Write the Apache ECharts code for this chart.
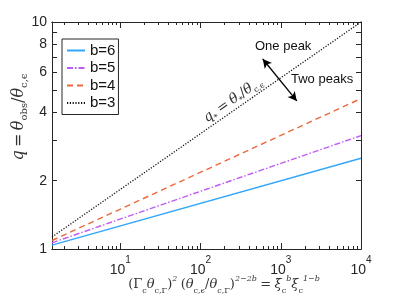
<!DOCTYPE html>
<html><head><meta charset="utf-8">
<script src="https://cdn.jsdelivr.net/npm/echarts@6/dist/echarts.min.js"></script>
<style>html,body{margin:0;padding:0;background:#fff}#c{width:399px;height:299px}</style>
</head><body><div id="c"></div>
<script>
// ---- data ----
const seriesNames = ['b=6', 'b=5', 'b=4', 'b=3'];
const xEnds = [1.41, 10000];
const q_b6 = [1.04, 2.51];
const q_b5 = [1.065, 3.16];
const q_b4 = [1.09, 4.6];
const q_b3 = [1.13, 10];
const yTickValues = [1, 2, 3, 4, 5, 6, 7, 8, 9, 10];
const yTickLabels = [1, 2, 4, 6, 8, 10];
const xMajorTicks = [10, 100, 1000, 10000];
const xMinorTicks = [2,3,4,5,6,7,8,9,20,30,40,50,60,70,80,90,200,300,400,500,600,700,800,900,2000,3000,4000,5000,6000,7000,8000,9000];
const xExponents = {10: '1', 100: '2', 1000: '3', 10000: '4'};
const arrowFrom = [596, 6.87];
const arrowTo = [1585, 4.49];

const colors = ['#33a6fa', '#bd5cf5', '#ea6a3c', '#111111'];
const lineTypes = ['solid', [6, 2, 1.5, 2], [6, 4], [1.2, 1.6]];
const allQ = [q_b6, q_b5, q_b4, q_b3];

const axisColor = '#262626';
const sansFont = '"Liberation Sans", Arial, sans-serif';
const serif = '"DejaVu Serif", "Liberation Serif", serif';

function xAx(pos, ticks, len, labels) {
  return {
    type: 'log', position: pos, min: xEnds[0], max: xEnds[1],
    axisLine: { show: true, lineStyle: { color: axisColor, width: 1 } },
    axisTick: { show: true, inside: true, length: len, customValues: ticks, lineStyle: { color: axisColor } },
    axisLabel: labels ? {
      show: true, customValues: xMajorTicks, margin: 6,
      formatter: v => '{b|10}{s|' + xExponents[Math.round(v)] + '}',
      rich: {
        b: { fontSize: 14, fontFamily: sansFont, color: axisColor, lineHeight: 22, verticalAlign: 'bottom' },
        s: { fontSize: 10, fontFamily: sansFont, color: axisColor, lineHeight: 22, verticalAlign: 'top' }
      }
    } : { show: false },
    splitLine: { show: false }, minorTick: { show: false }, minorSplitLine: { show: false }
  };
}
function yAx(pos, labels) {
  return {
    type: 'log', position: pos, min: 1, max: 10,
    axisLine: { show: true, lineStyle: { color: axisColor, width: 1 } },
    axisTick: { show: true, inside: true, length: 5, customValues: yTickValues, lineStyle: { color: axisColor } },
    axisLabel: labels ? { show: true, customValues: yTickLabels, margin: 5, fontSize: 14, fontFamily: sansFont, color: axisColor } : { show: false },
    splitLine: { show: false }, minorTick: { show: false }
  };
}

const series = seriesNames.map((n, i) => ({
  name: n, type: 'line', xAxisIndex: 0, yAxisIndex: 0,
  data: xEnds.map((x, j) => [x, allQ[i][j]]),
  symbol: 'none', silent: true,
  lineStyle: { color: colors[i], width: i === 3 ? 1.3 : 1.4, type: lineTypes[i] },
  itemStyle: { color: colors[i] }
}));
series[3].markLine = {
  silent: true, symbol: ['arrow', 'arrow'], symbolSize: [7, 9],
  lineStyle: { color: '#000', width: 1.3, type: 'solid' }, label: { show: false },
  data: [[{ coord: arrowFrom }, { coord: arrowTo }]]
};

const chart = echarts.init(document.getElementById('c'), null, { renderer: 'canvas' });
chart.setOption({
  animation: false,
  backgroundColor: '#fff',
  grid: { left: 52, right: 38, top: 22, bottom: 50, containLabel: false },
  xAxis: [xAx('bottom', xMinorTicks, 3, false), xAx('bottom', xMajorTicks, 6, true), xAx('top', xMinorTicks, 3, false), xAx('top', xMajorTicks, 6, false)],
  yAxis: [yAx('left', true), yAx('right', false)],
  legend: {
    left: 62, top: 39, orient: 'vertical', data: seriesNames,
    itemWidth: 18, itemHeight: 14, itemGap: 2.5, padding: [4, 3, 4, 4],
    borderColor: axisColor, borderWidth: 1, backgroundColor: '#fff',
    itemStyle: { opacity: 0 },
    textStyle: { fontSize: 15, fontFamily: sansFont, color: '#111' }
  },
  series: series,
  graphic: [
    { type: 'text', left: 255, top: 40, style: { text: 'One peak', fontSize: 13, fontFamily: sansFont, fill: '#111' } },
    { type: 'text', left: 291, top: 73, style: { text: 'Two peaks', fontSize: 13, fontFamily: sansFont, fill: '#111' } },
    { type: 'text', x: 233, y: 100, rotation: 35 * Math.PI / 180,
      style: {
        text: '{i|q}{sb|*} {r|=} {g|θ}{sb|*}{r|/}{g|θ}{sb|c,ϵ}', align: 'center', verticalAlign: 'middle',
        rich: {
          i: { fontSize: 14, fontStyle: 'italic', fontFamily: serif, fill: '#333', lineHeight: 18, verticalAlign: 'middle' },
          g: { fontSize: 14, fontStyle: 'italic', fontFamily: serif, fill: '#333', lineHeight: 18, verticalAlign: 'middle' },
          r: { fontSize: 14, fontFamily: serif, fill: '#333', lineHeight: 18, verticalAlign: 'middle' },
          sb: { fontSize: 8, fontFamily: serif, fill: '#333', lineHeight: 18, verticalAlign: 'bottom' }
        }
      } },
    { type: 'text', x: 19, y: 117, rotation: Math.PI / 2,
      style: {
        text: '{i|q} {r|=} {g|θ}{sb|obs}{r|/}{g|θ}{sb|c,ϵ}', align: 'center', verticalAlign: 'middle',
        rich: {
          i: { fontSize: 16, fontStyle: 'italic', fontFamily: serif, fill: '#333', lineHeight: 21, verticalAlign: 'middle' },
          g: { fontSize: 16, fontStyle: 'italic', fontFamily: serif, fill: '#333', lineHeight: 21, verticalAlign: 'middle' },
          r: { fontSize: 16, fontFamily: serif, fill: '#333', lineHeight: 21, verticalAlign: 'middle' },
          sb: { fontSize: 10, fontFamily: serif, fill: '#333', lineHeight: 21, verticalAlign: 'bottom' }
        }
      } },
    { type: 'text', x: 224, y: 285,
      style: {
        text: '{r|(Γ}{sb|c}{g|θ}{sb|c,Γ}{r|)}{sp|2} {r|(}{g|θ}{sb|c,ϵ}{r|/}{g|θ}{sb|c,Γ}{r|)}{sp|2−2b} {r|=} {g|ξ̄}{sb|c}{sp|b}{g|ξ}{sb|c}{sp|1−b}',
        align: 'center', verticalAlign: 'middle',
        rich: {
          g: { fontSize: 13, fontStyle: 'italic', fontFamily: serif, fill: '#333', lineHeight: 20, verticalAlign: 'middle' },
          r: { fontSize: 13, fontFamily: serif, fill: '#333', lineHeight: 20, verticalAlign: 'middle' },
          sb: { fontSize: 8, fontFamily: serif, fill: '#333', lineHeight: 20, verticalAlign: 'bottom' },
          sp: { fontSize: 8, fontFamily: serif, fontStyle: 'italic', fill: '#333', lineHeight: 20, verticalAlign: 'top' }
        }
      } }
  ]
});
</script></body></html>
